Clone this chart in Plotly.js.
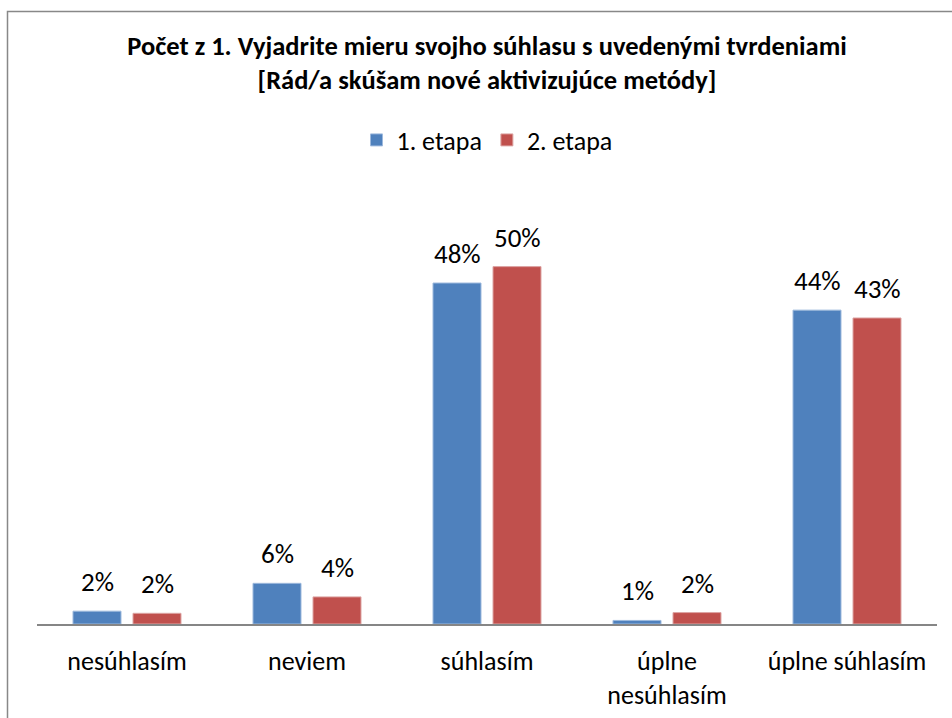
<!DOCTYPE html>
<html>
<head>
<meta charset="utf-8">
<script src="https://cdn.plot.ly/plotly-3.0.1.min.js"></script>
<style>html,body{margin:0;padding:0;background:#fff;}#chart{width:952px;height:718px;}</style>
</head>
<body>
<div id="chart"></div>
<script>
// Data
const categories = ["nesúhlasím", "neviem", "súhlasím", "úplne<br>nesúhlasím", "úplne súhlasím"];
const seriesNames = ["1. etapa", "2. etapa"];
const etapa1 = [1.8, 5.7, 47.8, 0.5, 44.0];
const etapa2 = [1.5, 3.8, 50.1, 1.6, 42.9];
const titleText = "Počet z 1. Vyjadrite mieru svojho súhlasu s uvedenými tvrdeniami<br>[Rád/a skúšam nové aktivizujúce metódy]";

const FONT = "Carlito, Lato, 'Open Sans', sans-serif";
const colors = ["#4F81BD", "#C0504D"];
const edges = ["#9DB9DD", "#DDA5A4"];
const allSeries = [etapa1, etapa2];

const traces = allSeries.map((vals, i) => ({
  type: "bar",
  name: seriesNames[i],
  x: categories,
  y: vals,
  marker: {color: colors[i], line: {color: edges[i], width: 1}},
  hoverinfo: "skip"
}));

const annotations = [];
allSeries.forEach((vals, i) => {
  vals.forEach((v, j) => {
    annotations.push({
      x: categories[j], y: v, xref: "x", yref: "y",
      text: Math.round(v) + "%",
      showarrow: false,
      xanchor: "center", yanchor: "bottom",
      xshift: i === 0 ? -30 : 30,
      yshift: 11,
      font: {family: FONT, size: 27, color: "#000"}
    });
  });
});

const layout = {
  width: 952, height: 718,
  paper_bgcolor: "#fff", plot_bgcolor: "#fff",
  margin: {l: 37, r: 15, t: 196, b: 94, pad: 0},
  font: {family: FONT, color: "#000"},
  title: {
    text: titleText,
    font: {family: FONT, size: 26.5, color: "#000", weight: "bold"},
    x: 0.5, xref: "paper", xanchor: "center",
    y: 1 - 55 / 718, yref: "container", yanchor: "middle"
  },
  barmode: "group",
  bargap: 0.3333,
  bargroupgap: 0.2,
  showlegend: true,
  legend: {
    orientation: "h",
    x: 0.5, xanchor: "center",
    y: (624 - 140) / 428, yanchor: "middle",
    font: {family: FONT, size: 26, color: "#000"},
    itemclick: false, itemdoubleclick: false
  },
  xaxis: {
    type: "category",
    showline: true, linecolor: "#868686", linewidth: 2,
    ticks: "", showgrid: false, zeroline: false,
    tickfont: {family: FONT, size: 26, color: "#000"},
    ticklabelstandoff: 13,
    fixedrange: true
  },
  yaxis: {
    range: [0, 60],
    visible: false, showgrid: false, zeroline: false,
    fixedrange: true
  },
  annotations: annotations,
  shapes: [{
    type: "rect", xref: "paper", yref: "paper",
    x0: (7.5 - 37) / 900, x1: 1.2,
    y0: (624 - 11.5) / 428, y1: -0.5,
    line: {color: "#888", width: 1.5},
    fillcolor: "rgba(0,0,0,0)",
    layer: "below"
  }]
};

Plotly.newPlot("chart", traces, layout, {displayModeBar: false, staticPlot: true});
</script>
</body>
</html>
